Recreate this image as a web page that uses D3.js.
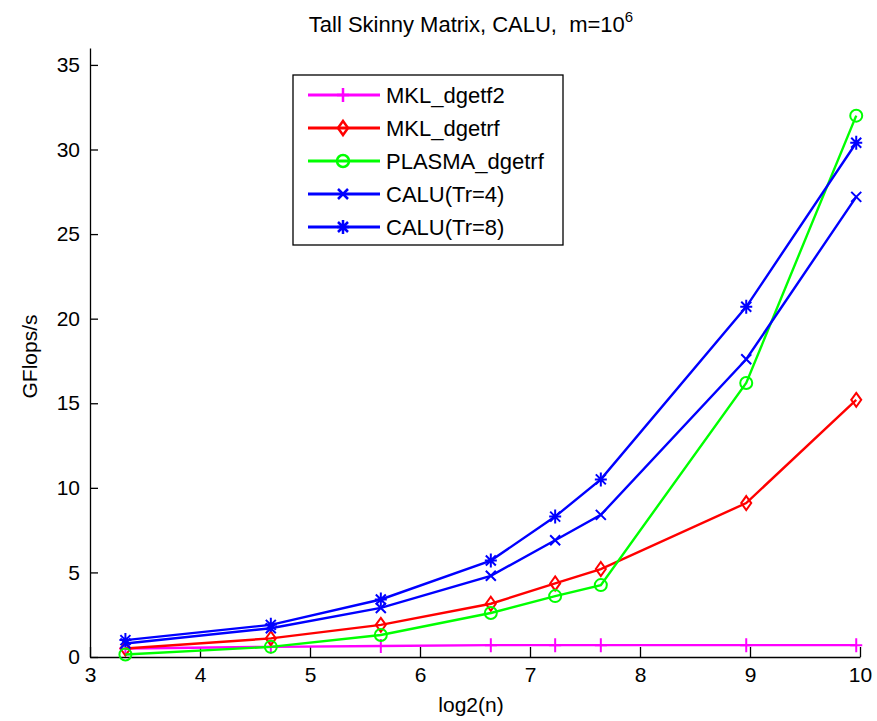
<!DOCTYPE html>
<html>
<head>
<meta charset="utf-8">
<script src="https://cdn.jsdelivr.net/npm/d3@7/dist/d3.min.js"></script>
<style>
  body { margin: 0; background: #fff; }
  svg text { font-family: "Liberation Sans", Arial, sans-serif; fill: #000; }
</style>
</head>
<body>
<svg id="chart"></svg>
<script>
// matrix sizes n, plotted as log2(n)
const nValues = [10, 25, 50, 100, 150, 200, 500, 1000];
const seriesNames = ["MKL_dgetf2", "MKL_dgetrf", "PLASMA_dgetrf", "CALU(Tr=4)", "CALU(Tr=8)"];
const mklDgetf2 = [0.5, 0.6, 0.65, 0.7, 0.7, 0.7, 0.7, 0.7];
const mklDgetrf = [0.5, 1.1, 1.9, 3.15, 4.35, 5.2, 9.1, 15.2];
const plasmaDgetrf = [0.15, 0.6, 1.3, 2.6, 3.6, 4.25, 16.2, 32.0];
const caluTr4 = [0.8, 1.7, 2.9, 4.8, 6.9, 8.4, 17.6, 27.2];
const caluTr8 = [1.0, 1.9, 3.4, 5.7, 8.3, 10.5, 20.7, 30.4];
const xTicks = [3, 4, 5, 6, 7, 8, 9, 10];
const yTicks = [0, 5, 10, 15, 20, 25, 30, 35];

const width = 877, height = 721;
const margin = {top: 48, right: 17, bottom: 64, left: 90};

const svg = d3.select("#chart").attr("width", width).attr("height", height);

const x = d3.scaleLinear().domain([3, 10]).range([margin.left, width - margin.right]);
const y = d3.scaleLinear().domain([0, 36]).range([height - margin.bottom, margin.top]);

const series = [
  {name: seriesNames[0], values: mklDgetf2, color: "#ff00ff", marker: "plus"},
  {name: seriesNames[1], values: mklDgetrf, color: "#ff0000", marker: "diamond"},
  {name: seriesNames[2], values: plasmaDgetrf, color: "#00ff00", marker: "circle"},
  {name: seriesNames[3], values: caluTr4, color: "#0000ff", marker: "cross"},
  {name: seriesNames[4], values: caluTr8, color: "#0000ff", marker: "star"}
];

// MATLAB style marker shapes, centred on 0,0
function markerPath(type) {
  switch (type) {
    case "plus":
      return "M-6,0H6M0,-7V7";
    case "diamond":
      return "M0,-7L5,0L0,7L-5,0Z";
    case "circle":
      return "M6,0A6,6 0 1,1 -6,0A6,6 0 1,1 6,0Z";
    case "cross":
      return "M-5,-5L5,5M-5,5L5,-5";
    case "star":
      return "M-6,0H6M0,-7V7M-5,-5L5,5M-5,5L5,-5";
    default:
      return "";
  }
}

// axes: ticks point inward, no box
const xAxis = d3.axisBottom(x).tickValues(xTicks).tickFormat(d3.format("d"))
  .tickSizeInner(-10).tickSizeOuter(0).tickPadding(10);
const yAxis = d3.axisLeft(y).tickValues(yTicks).tickFormat(d3.format("d"))
  .tickSizeInner(-8).tickSizeOuter(0).tickPadding(10);

const gx = svg.append("g")
  .attr("transform", "translate(0," + (height - margin.bottom) + ")")
  .call(xAxis);
const gy = svg.append("g")
  .attr("transform", "translate(" + margin.left + ",0)")
  .call(yAxis);

[gx, gy].forEach(g => {
  g.selectAll("path, line").attr("stroke", "#000").attr("stroke-width", 1.3);
  g.selectAll("text").style("font-size", "21px").attr("fill", "#111");
});

// lines and markers
const line = d3.line()
  .x((d, i) => x(Math.log2(nValues[i])))
  .y(d => y(d));

const plot = svg.append("g");
series.forEach(s => {
  plot.append("path")
    .datum(s.values)
    .attr("d", line)
    .attr("fill", "none")
    .attr("stroke", s.color)
    .attr("stroke-width", 2.4);

  plot.append("g").selectAll("path")
    .data(s.values)
    .enter()
    .append("path")
    .attr("transform", (d, i) => "translate(" + x(Math.log2(nValues[i])) + "," + y(d) + ")")
    .attr("d", markerPath(s.marker))
    .attr("fill", "none")
    .attr("stroke", s.color)
    .attr("stroke-width", 2);
});

// title
const title = svg.append("text")
  .attr("x", 471)
  .attr("y", 32)
  .attr("text-anchor", "middle")
  .attr("xml:space", "preserve")
  .style("font-size", "22px");
title.append("tspan").text("Tall Skinny Matrix, CALU,\u00a0 m=10");
title.append("tspan").attr("dy", -10).style("font-size", "15px").text("6");

// axis labels
svg.append("text")
  .attr("x", 471)
  .attr("y", 712)
  .attr("text-anchor", "middle")
  .style("font-size", "21px")
  .text("log2(n)");

svg.append("text")
  .attr("transform", "translate(37," + ((margin.top + height - margin.bottom) / 2 + 4) + ") rotate(-90)")
  .attr("text-anchor", "middle")
  .style("font-size", "21px")
  .text("GFlops/s");

// legend
const legend = svg.append("g").attr("transform", "translate(293,75)");
legend.append("rect")
  .attr("width", 270)
  .attr("height", 170)
  .attr("fill", "#fff")
  .attr("stroke", "#000")
  .attr("stroke-width", 1.3);

const item = legend.selectAll("g.item")
  .data(series)
  .enter()
  .append("g")
  .attr("class", "item")
  .attr("transform", (d, i) => "translate(0," + (20 + i * 33) + ")");

item.append("line")
  .attr("x1", 15).attr("x2", 87)
  .attr("stroke", d => d.color)
  .attr("stroke-width", 3);
item.append("path")
  .attr("transform", "translate(50,0)")
  .attr("d", d => markerPath(d.marker))
  .attr("fill", "none")
  .attr("stroke", d => d.color)
  .attr("stroke-width", 2.5);
item.append("text")
  .attr("x", 93)
  .attr("y", 8)
  .style("font-size", "22px")
  .text(d => d.name);
</script>
</body>
</html>
